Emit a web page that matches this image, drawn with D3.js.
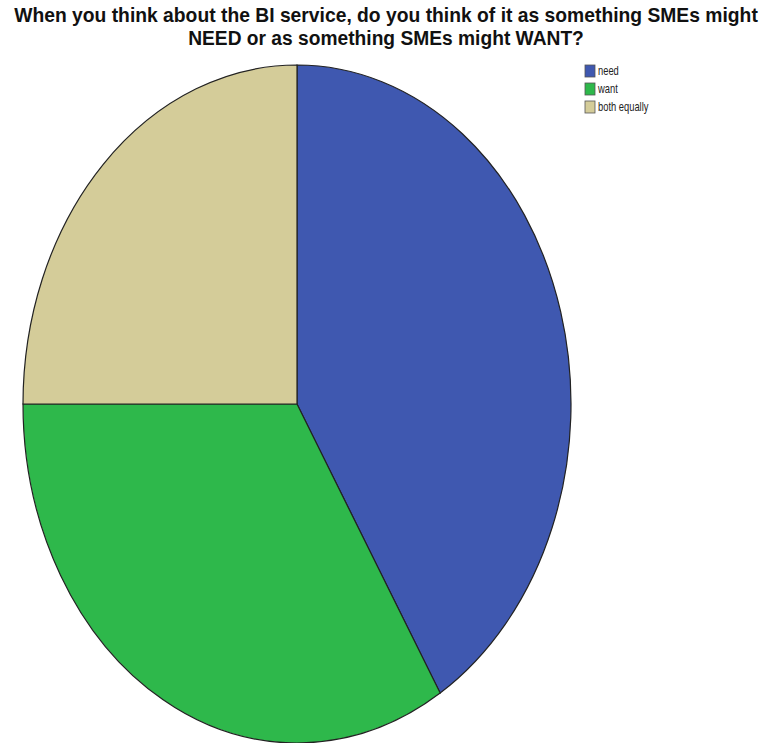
<!DOCTYPE html>
<html><head><meta charset="utf-8">
<script src="https://cdn.jsdelivr.net/npm/d3@7"></script>
<style>body{margin:0;background:#fff}</style>
</head><body>
<svg id="c" width="771" height="743"></svg>
<script>
const categories = ["need", "want", "both equally"];
const values = [33, 27, 20];
const colors = ["#3f58b0", "#2eb84b", "#d4cc99"];
const titleLines = ["When you think about the BI service, do you think of it as something SMEs might", "NEED or as something SMEs might WANT?"];

const svg = d3.select("#c");
const font = "'Liberation Sans', Arial, sans-serif";

const titleWidths = [744, 396];
svg.selectAll("text.title").data(titleLines).join("text")
  .attr("class","title")
  .attr("text-anchor","middle")
  .attr("font-family", font).attr("font-weight","bold").attr("font-size", 20)
  .attr("fill","#111")
  .text(d=>d)
  .attr("transform", function(d,i){
    const w = this.getComputedTextLength();
    return `translate(386,${22 + i*23}) scale(${titleWidths[i]/w},1)`;
  });

const cx = 297, cy = 404, rx = 274, ry = 339;
const pie = d3.pie().sort(null).startAngle(0).endAngle(2*Math.PI);
const arc = d3.arc().innerRadius(0).outerRadius(rx);
const g = svg.append("g").attr("transform", `translate(${cx},${cy}) scale(1,${ry/rx})`);
g.selectAll("path").data(pie(values)).join("path")
  .attr("d", arc)
  .attr("fill", (d,i)=>colors[i])
  .attr("stroke", "#222").attr("stroke-width", 1.2)
  .attr("vector-effect","non-scaling-stroke");

const leg = svg.append("g").attr("transform","translate(585,65)");
const items = leg.selectAll("g").data(categories).join("g")
  .attr("transform",(d,i)=>`translate(0,${i*18})`);
items.append("rect").attr("width",10).attr("height",12)
  .attr("fill",(d,i)=>colors[i]).attr("stroke","#555").attr("stroke-width",0.8);
items.append("text").attr("transform","translate(13,10) scale(0.78,1)")
  .attr("font-family", font).attr("font-size",12).attr("fill","#222")
  .text(d=>d);
</script>
</body></html>
